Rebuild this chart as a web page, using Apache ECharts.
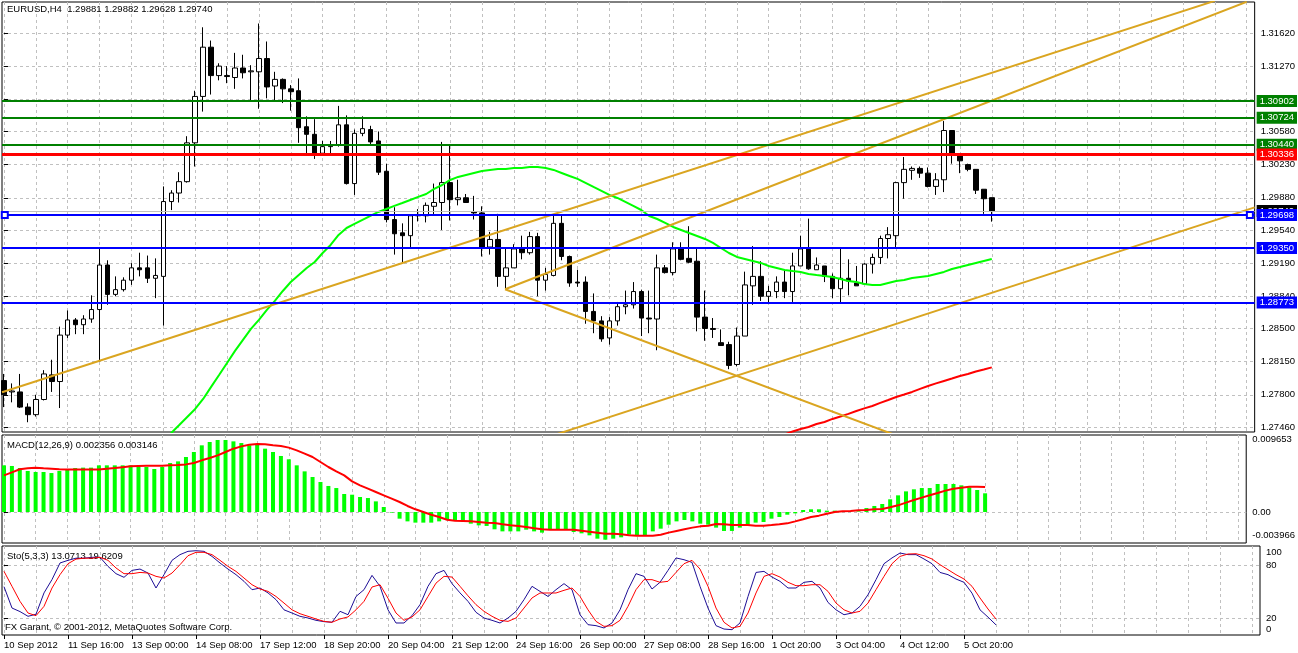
<!DOCTYPE html>
<html>
<head>
<meta charset="utf-8">
<script src="https://cdn.jsdelivr.net/npm/echarts@6/dist/echarts.min.js"></script>
<style>html,body{margin:0;padding:0;background:#fff}#c{width:1298px;height:653px}</style>
</head>
<body>
<div id="c"></div>
<script>
// ---------- DATA ----------
const symbolName = 'EURUSD,H4';
const xLabels = ['10 Sep 2012','11 Sep 16:00','13 Sep 00:00','14 Sep 08:00','17 Sep 12:00','18 Sep 20:00','20 Sep 04:00','21 Sep 12:00','24 Sep 16:00','26 Sep 00:00','27 Sep 08:00','28 Sep 16:00','1 Oct 20:00','3 Oct 04:00','4 Oct 12:00','5 Oct 20:00'];
const priceTicks = [1.3162,1.3127,1.3092,1.3058,1.3023,1.2988,1.2954,1.2919,1.2884,1.2850,1.2815,1.2780,1.2746];
const macdTickValues = [0.0091, 0, -0.0030];
const macdTickLabels = ['0.009653','0.00','-0.003966'];
const stochTickValues = [95, 80, 20, 8];
const stochTickLabels = ['100','80','20','0'];
const stochLevels = [80, 20];

const opens = [1.2795,1.2783,1.2783,1.2767,1.2759,1.2775,1.2801,1.2794,1.2843,1.2859,
1.2854,1.2860,1.2870,1.2917,1.2886,1.2891,1.2901,1.2914,1.2914,1.2903,
1.2905,1.2984,1.2993,1.3005,1.3046,1.3095,1.3147,1.3117,1.3117,1.3115,
1.3125,1.3121,1.3121,1.3135,1.3106,1.3113,1.3103,1.3101,1.3063,1.3055,
1.3035,1.3042,1.3044,1.3065,1.3003,1.3056,1.3060,1.3048,1.3016,1.2965,
1.2951,1.2948,1.2969,1.2969,1.2979,1.2983,1.3004,1.2986,1.2988,1.2973,
1.2972,1.2936,1.2944,1.2905,1.2914,1.2934,1.2930,1.2947,1.2901,1.2906,
1.2961,1.2926,1.2899,1.2899,1.2868,1.2858,1.2840,1.2858,1.2873,1.2875,
1.2889,1.2861,1.2860,1.2914,1.2909,1.2935,1.2924,1.2921,1.2862,1.2850,
1.2835,1.2833,1.2812,1.2842,1.2895,1.2905,1.2884,1.2889,1.2899,1.2889,
1.2916,1.2934,1.2912,1.2916,1.2905,1.2892,1.2903,1.2898,1.2897,1.2918,
1.2925,1.2945,1.2948,1.3004,1.3017,1.3019,1.3014,1.3000,1.3007,1.3059,
1.3032,1.3023,1.3018,1.2997,1.29881];
const highs = [1.2802,1.2792,1.2802,1.2771,1.2780,1.2806,1.2817,1.2852,1.2869,1.2861,
1.2864,1.2885,1.2934,1.2922,1.2905,1.2904,1.2919,1.2930,1.2927,1.2924,
1.3000,1.2996,1.3015,1.3053,1.3101,1.3168,1.3154,1.3130,1.3127,1.3141,
1.3139,1.3128,1.3172,1.3153,1.3121,1.3114,1.3107,1.3114,1.3074,1.3071,
1.3048,1.3048,1.3085,1.3075,1.3060,1.3074,1.3064,1.3058,1.3024,1.2978,
1.2961,1.2969,1.2976,1.2983,1.3003,1.3047,1.3043,1.3007,1.2992,1.2990,
1.2979,1.2952,1.2971,1.2934,1.2939,1.2948,1.2952,1.2951,1.2914,1.2969,
1.2969,1.2927,1.2912,1.2905,1.2887,1.2863,1.2862,1.2878,1.2890,1.2899,
1.2891,1.2890,1.2928,1.2917,1.2941,1.2941,1.2958,1.2936,1.2890,1.2861,
1.2849,1.2836,1.2851,1.2910,1.2937,1.2921,1.2895,1.2905,1.2912,1.2930,
1.2948,1.2966,1.2925,1.2916,1.2908,1.2935,1.2923,1.2916,1.2919,1.2929,
1.2948,1.2957,1.3005,1.3031,1.3021,1.3021,1.3020,1.3014,1.3069,1.3059,
1.3034,1.3024,1.3018,1.2997,1.29882];
const lows = [1.2767,1.2772,1.2766,1.2751,1.2757,1.2774,1.2783,1.2766,1.2840,1.2844,
1.2844,1.2856,1.2815,1.2875,1.2884,1.2889,1.2896,1.2905,1.2898,1.2882,
1.2853,1.2975,1.2983,1.3004,1.3021,1.3079,1.3097,1.3112,1.3109,1.3103,
1.3114,1.3091,1.3082,1.3093,1.3091,1.3088,1.3080,1.3046,1.3035,1.3029,
1.3033,1.3035,1.3042,1.3002,1.2991,1.3053,1.3043,1.3012,1.2962,1.2928,
1.2920,1.2935,1.2963,1.2962,1.2970,1.2954,1.2964,1.2980,1.2983,1.2965,
1.2926,1.2928,1.2894,1.2892,1.2914,1.2923,1.2928,1.2884,1.2890,1.2905,
1.2922,1.2894,1.2894,1.2855,1.2845,1.2836,1.2833,1.2853,1.2865,1.2871,
1.2842,1.2845,1.2827,1.2908,1.2906,1.2922,1.2919,1.2847,1.2837,1.2840,
1.2832,1.2807,1.2810,1.2842,1.2875,1.2879,1.2877,1.2882,1.2882,1.2878,
1.2916,1.2912,1.2912,1.2899,1.2882,1.2877,1.2885,1.2895,1.2897,1.2908,
1.2918,1.2924,1.2935,1.2987,1.3007,1.3009,1.2999,1.2991,1.2994,1.3024,
1.3014,1.3016,1.2992,1.2971,1.29628];
const closes = [1.2780,1.2784,1.2767,1.2759,1.2775,1.2802,1.2794,1.2843,1.2859,1.2854,
1.2860,1.2870,1.2917,1.2886,1.2891,1.2901,1.2914,1.2912,1.2903,1.2906,
1.2984,1.2993,1.3005,1.3046,1.3095,1.3147,1.3117,1.3127,1.3116,1.3125,
1.3120,1.3122,1.3135,1.3105,1.3113,1.3103,1.3100,1.3062,1.3055,1.3034,
1.3042,1.3043,1.3065,1.3003,1.3056,1.3061,1.3047,1.3015,1.2965,1.2950,
1.2948,1.2969,1.2970,1.2980,1.2983,1.3004,1.2986,1.2988,1.2983,1.2972,
1.2936,1.2944,1.2905,1.2914,1.2934,1.2930,1.2947,1.2901,1.2907,1.2961,
1.2926,1.2898,1.2898,1.2868,1.2858,1.2839,1.2858,1.2873,1.2875,1.2889,
1.2861,1.2860,1.2914,1.2909,1.2934,1.2923,1.2920,1.2862,1.2850,1.2849,
1.2832,1.2811,1.2842,1.2896,1.2905,1.2884,1.2889,1.2899,1.2889,1.2916,
1.2934,1.2913,1.2917,1.2905,1.2892,1.2903,1.2900,1.2895,1.2918,1.2925,
1.2945,1.2949,1.3004,1.3018,1.3019,1.3014,1.3000,1.3007,1.3059,1.3034,
1.3027,1.3018,1.2996,1.2987,1.29740];

const maGreen = [null,null,null,null,null,null,null,null,null,null,
null,null,null,null,null,null,null,null,null,null,
1.27249,1.27397,1.27481,1.27566,1.27650,1.27756,1.27883,1.28009,1.28136,1.28263,
1.28379,1.28495,1.28590,1.28696,1.28791,1.28896,1.28991,1.29065,1.29139,1.29202,
1.29297,1.29382,1.29487,1.29561,1.29604,1.29646,1.29688,1.29730,1.29762,1.29794,
1.29825,1.29857,1.29889,1.29920,1.29973,1.30015,1.30068,1.30100,1.30121,1.30142,
1.30163,1.30174,1.30184,1.30184,1.30195,1.30195,1.30205,1.30205,1.30195,1.30174,
1.30142,1.30110,1.30079,1.30037,1.29994,1.29952,1.29910,1.29878,1.29836,1.29794,
1.29751,1.29688,1.29656,1.29614,1.29572,1.29540,1.29508,1.29477,1.29445,1.29403,
1.29350,1.29297,1.29255,1.29234,1.29213,1.29192,1.29160,1.29139,1.29118,1.29107,
1.29097,1.29076,1.29065,1.29055,1.29044,1.29023,1.29002,1.28991,1.28970,1.28960,
1.28960,1.28981,1.29002,1.29012,1.29033,1.29044,1.29055,1.29076,1.29097,1.29128,
1.29149,1.29171,1.29192,1.29213,1.29234];
const maRedStart = 98;
const maRed = [1.27381,1.27413,1.27439,1.27460,1.27492,1.27513,1.27545,1.27571,1.27598,1.27629,
1.27656,1.27682,1.27714,1.27745,1.27777,1.27803,1.27830,1.27862,1.27893,1.27920,
1.27946,1.27972,1.27999,1.28020,1.28046,1.28067,1.28089];

const greenLevels = [1.30902, 1.30724, 1.30440];
const redLevels = [1.30336];
const blueLevels = [1.29698, 1.29350, 1.28773];
const selectedLevel = 1.29698;

const trendLines = [
  [[-0.25, 1.27827], [152, 1.31959]],
  [[62.9, 1.28914], [156, 1.31949]],
  [[62.9, 1.28914], [112, 1.27371]],
  [[69.5, 1.27387], [157, 1.29779]]
];

const macdHist = [0.00588,0.0058,0.00554,0.00517,0.00504,0.00504,0.00491,0.00517,0.00538,0.00554,
0.00559,0.00559,0.00588,0.00588,0.00588,0.00588,0.00588,0.00575,0.00567,0.00542,
0.00567,0.00617,0.00638,0.00693,0.00756,0.0084,0.00882,0.00907,0.00907,0.0089,
0.00869,0.0084,0.00848,0.00798,0.00756,0.00706,0.00664,0.00588,0.00512,0.00441,
0.00378,0.00328,0.00302,0.00227,0.00218,0.00189,0.00176,0.00134,0.00063,-0.00008,
-0.00084,-0.00118,-0.00134,-0.00134,-0.00134,-0.00118,-0.00092,-0.00105,-0.00118,-0.00147,
-0.00168,-0.00176,-0.00218,-0.00244,-0.00244,-0.00244,-0.00223,-0.00244,-0.0026,-0.00218,
-0.00218,-0.00218,-0.00252,-0.00269,-0.00294,-0.00336,-0.00349,-0.00336,-0.00319,-0.00286,
-0.00294,-0.00294,-0.00244,-0.0021,-0.0016,-0.00118,-0.00101,-0.00118,-0.00147,-0.0016,
-0.00197,-0.00239,-0.00239,-0.00197,-0.0016,-0.00134,-0.00126,-0.00084,-0.00063,-0.00034,
-0.00017,0.00025,0.00034,0.00034,0.00017,0.00017,0.00008,0.0,0.00008,0.0005,
0.00076,0.00101,0.0016,0.0021,0.0026,0.00286,0.00302,0.00302,0.00353,0.00353,
0.00353,0.00336,0.00311,0.00277,0.002356];
const macdSignal = [0.00462,0.0050,0.00538,0.0055,0.00559,0.00552,0.00546,0.0054,0.00536,0.00536,
0.00536,0.00536,0.00536,0.00545,0.00554,0.00565,0.00575,0.0058,0.00584,0.00584,
0.00584,0.00588,0.00592,0.006,0.00617,0.00651,0.0068,0.00714,0.00756,0.00798,
0.00827,0.00848,0.00857,0.00853,0.0084,0.00832,0.00811,0.00777,0.00735,0.00693,
0.0063,0.00567,0.00512,0.00462,0.00386,0.00336,0.00294,0.00252,0.0021,0.00168,
0.00126,0.00076,0.00034,0.0,-0.00034,-0.00063,-0.00097,-0.00109,-0.00113,-0.00118,
-0.00126,-0.00134,-0.00139,-0.00155,-0.00168,-0.00176,-0.00189,-0.00206,-0.00218,-0.00223,
-0.00223,-0.00223,-0.00223,-0.00235,-0.00248,-0.0026,-0.00273,-0.00273,-0.00281,-0.00294,
-0.00298,-0.00298,-0.00298,-0.00286,-0.0026,-0.00239,-0.00218,-0.00197,-0.00181,-0.00172,
-0.00151,-0.00155,-0.00164,-0.00164,-0.00164,-0.00172,-0.00172,-0.00164,-0.00155,-0.00143,
-0.00118,-0.00092,-0.00063,-0.00046,-0.00021,0.0,0.00008,0.00013,0.00021,0.00025,
0.00034,0.00038,0.00059,0.00084,0.00118,0.00151,0.00181,0.0021,0.00239,0.00269,
0.00294,0.00307,0.00319,0.00319,0.003146];

const stochK = [56,32,28,22.7,25,49,64,82.6,85.6,88,
88,89,89,78.8,70.6,66.5,74.3,75.8,71.3,54.5,
69.5,85.6,92,95.7,96.4,95.7,90,82.6,75.8,69.5,
62,52.6,54.5,49,41.4,30,26.4,22.7,20.8,18.2,
16.7,16,28.3,24.5,45,52.6,68.7,56.4,30,15.2,
15.2,23.4,35.8,56.4,70.6,74.3,59.4,49,39.5,27.2,
20.8,18.2,15.2,20.8,28.3,41.4,56.4,50.7,45,52.6,
59.4,52.6,24.5,13.3,12.2,9.6,15.2,30,52.6,70.6,
67.6,53.4,60.9,74.3,88.3,86.3,83.3,56.4,32,12.2,
8.4,7.7,15.2,45,72,73.2,66.8,62,54.5,54.5,
60.9,62,54.5,38.3,30,24.5,26.4,33.9,47,63.9,
81.8,88.3,93.8,92,92,87.1,81.8,72,69.5,64.6,
60.9,48.7,30,21.8,13.0713];
const stochD = [73.2,56.4,39.5,26.4,23.4,33.9,54.5,69.5,81.8,87,
88,88,89,85.6,77,70.6,70.6,72,71.3,67.6,
65.7,71.3,80.7,90.8,94.6,94.6,92,85.6,78.8,73.2,
65.7,58.2,53.4,50.7,45,37.6,30,25.6,22.7,19.7,
17,16,19.7,22,30,39.5,55.6,58.2,43,26.4,
18.2,22,30,45,60,67.6,66.8,56.4,45.7,35.8,
28.3,22.7,18.2,17,20.8,32,43.3,48.9,48.9,48.9,
51.9,54.5,45,30,17,11.4,12.2,18.2,33.9,52.6,
63.9,63.9,60.9,62,72,81.8,85.6,75.8,56.4,32,
16,9.6,11.4,26.4,48.9,67.6,70.6,66.8,60.9,57.1,
57.1,58.2,58.2,50.7,37.6,30,26.4,28.3,37.6,52.6,
67.6,81.8,90,92.7,93,90.8,87.1,80.7,75.1,69.5,
64.6,56.4,43.3,30.9,19.6209];

// ---------- CHART ----------
const FONT = 'Liberation Sans';
const FS = 9.5;
const X_MIN = -0.25, X_MAX = 157;
const last = closes.length - 1;
const vGrid = []; for (let v = 0; v <= 156; v += 4) vGrid.push(v);
const xLabelIdx = xLabels.map((_, k) => k * 8);
const gridLine = { show: true, lineStyle: { color: '#c0c0c0', type: [3, 3], width: 1 } };

function nearestLabel(values, labels, v) {
  let bi = 0, bd = Infinity;
  values.forEach((t, i) => { const d = Math.abs(t - v); if (d < bd) { bd = d; bi = i; } });
  return labels[bi];
}
function levelLine(v, color, width, bg) {
  return {
    yAxis: v,
    lineStyle: { color: color, width: width, type: 'solid' },
    label: { show: true, position: 'end', distance: 2, formatter: () => v.toFixed(5),
      color: '#fff', backgroundColor: bg, padding: [1, 3, 1, 3], fontSize: FS, fontFamily: FONT, lineHeight: 10 }
  };
}
const markData = [];
markData.push(levelLine(closes[last], '#c0c0c0', 1, '#000'));
greenLevels.forEach(v => markData.push(levelLine(v, '#008000', 2, '#008000')));
redLevels.forEach(v => markData.push(levelLine(v, '#ff0000', 3, '#ff0000')));
blueLevels.forEach(v => markData.push(levelLine(v, '#0000ff', 2, '#0000ff')));
markData.push([
  { coord: [0.1, selectedLevel], symbol: 'emptyRect', symbolSize: 6, lineStyle: { color: '#0000ff', width: 2, type: 'solid' }, label: { show: false } },
  { coord: [156.4, selectedLevel], symbol: 'emptyRect', symbolSize: 6 }
]);

const series = [];
series.push({
  type: 'candlestick', xAxisIndex: 0, yAxisIndex: 0,
  data: opens.map((o, i) => [i, o, closes[i], lows[i], highs[i]]),
  encode: { x: 0, y: [1, 2, 3, 4] },
  barWidth: 5,
  itemStyle: { color: '#ffffff', color0: '#000000', borderColor: '#000000', borderColor0: '#000000', borderColorDoji: '#000000', borderWidth: 1 },
  markLine: { silent: true, symbol: 'none', precision: 5, animation: false,
    lineStyle: { type: 'solid' }, data: markData }
});
series.push({
  type: 'line', xAxisIndex: 0, yAxisIndex: 0, showSymbol: false, symbol: 'none',
  data: maGreen.map((v, i) => [i, v]).filter(p => p[1] != null),
  lineStyle: { color: '#00ff00', width: 2 }, z: 3
});
series.push({
  type: 'line', xAxisIndex: 0, yAxisIndex: 0, showSymbol: false, symbol: 'none',
  data: maRed.map((v, i) => [maRedStart + i, v]),
  lineStyle: { color: '#ff0000', width: 2 }, z: 3
});
trendLines.forEach(tl => series.push({
  type: 'line', xAxisIndex: 0, yAxisIndex: 0, showSymbol: false, symbol: 'none',
  data: tl, lineStyle: { color: '#daa520', width: 2 }, z: 3
}));
series.push({
  type: 'bar', xAxisIndex: 1, yAxisIndex: 1, barWidth: 4,
  data: macdHist.map((v, i) => [i, v]), itemStyle: { color: '#00ff00' }
});
series.push({
  type: 'line', xAxisIndex: 1, yAxisIndex: 1, showSymbol: false, symbol: 'none',
  data: macdSignal.map((v, i) => [i, v]), lineStyle: { color: '#ff0000', width: 2 }
});
series.push({
  type: 'line', xAxisIndex: 2, yAxisIndex: 2, showSymbol: false, symbol: 'none',
  data: stochK.map((v, i) => [i, v]), lineStyle: { color: '#1e0e96', width: 1 }
});
series.push({
  type: 'line', xAxisIndex: 2, yAxisIndex: 2, showSymbol: false, symbol: 'none',
  data: stochD.map((v, i) => [i, v]), lineStyle: { color: '#ff0000', width: 1 }
});

const hiddenX = (g, pos) => ({
  type: 'value', gridIndex: g, position: pos, min: X_MIN, max: X_MAX,
  axisLine: { show: false }, axisLabel: { show: false },
  axisTick: { show: false, customValues: vGrid }, splitLine: gridLine
});
const gridBox = { show: true, borderColor: '#000', borderWidth: 1, backgroundColor: 'rgba(0,0,0,0)' };

const option = {
  animation: false,
  backgroundColor: '#ffffff',
  textStyle: { fontFamily: FONT },
  grid: [
    Object.assign({ left: 2, top: 2, width: 1258, height: 430 }, gridBox),
    Object.assign({ left: 2, top: 435, width: 1258, height: 108 }, gridBox),
    Object.assign({ left: 2, top: 546, width: 1258, height: 89 }, gridBox)
  ],
  xAxis: [
    hiddenX(0, 'bottom'),
    hiddenX(1, 'bottom'),
    {
      type: 'value', gridIndex: 2, position: 'bottom', min: X_MIN, max: X_MAX,
      axisLine: { show: false },
      axisTick: { show: true, length: 4, customValues: xLabelIdx, lineStyle: { color: '#000' } },
      axisLabel: { show: true, customValues: xLabelIdx, formatter: v => xLabels[Math.round(v / 8)] || '',
        align: 'left', margin: 5, fontSize: FS, fontFamily: FONT, color: '#000' },
      splitLine: { show: false }
    },
    hiddenX(2, 'top')
  ],
  yAxis: [
    {
      type: 'value', gridIndex: 0, position: 'right', min: 1.27407, max: 1.31947,
      axisLine: { show: false },
      axisTick: { show: true, length: 4, customValues: priceTicks, lineStyle: { color: '#000' } },
      axisLabel: { customValues: priceTicks, formatter: v => v.toFixed(5), margin: 6, fontSize: FS, fontFamily: FONT, color: '#000' },
      splitLine: gridLine
    },
    {
      type: 'value', gridIndex: 1, position: 'right', min: -0.003906, max: 0.009702,
      axisLine: { show: false },
      axisTick: { show: true, length: 4, customValues: [0], lineStyle: { color: '#000' } },
      axisLabel: { customValues: macdTickValues, formatter: v => nearestLabel(macdTickValues, macdTickLabels, v),
        margin: 6, fontSize: FS, fontFamily: FONT, color: '#000' },
      splitLine: gridLine
    },
    {
      type: 'value', gridIndex: 2, position: 'right', min: 1.7, max: 101.7,
      axisLine: { show: false },
      axisTick: { show: true, length: 4, customValues: stochLevels, lineStyle: { color: '#000' } },
      axisLabel: { customValues: stochTickValues, formatter: v => nearestLabel(stochTickValues, stochTickLabels, v),
        margin: 6, fontSize: FS, fontFamily: FONT, color: '#000' },
      splitLine: gridLine
    }
  ],
  graphic: [
    { type: 'text', left: 7, top: 4, z: 1, style: { text: symbolName + '  ' + [opens[last], highs[last], lows[last], closes[last]].map(v => v.toFixed(5)).join(' '), fontSize: FS, fontFamily: FONT, fill: '#000' } },
    { type: 'text', left: 7, top: 440, z: 1, style: { text: 'MACD(12,26,9) ' + macdHist[last].toFixed(6) + ' ' + macdSignal[last].toFixed(6), fontSize: FS, fontFamily: FONT, fill: '#000' } },
    { type: 'text', left: 7, top: 551, z: 1, style: { text: 'Sto(5,3,3) ' + stochK[last].toFixed(4) + ' ' + stochD[last].toFixed(4), fontSize: FS, fontFamily: FONT, fill: '#000' } },
    { type: 'text', left: 5, top: 622, z: 1, style: { text: 'FX Garant, \u00a9 2001-2012, MetaQuotes Software Corp.', fontSize: FS, fontFamily: FONT, fill: '#000' } }
  ],
  series: series
};

const chart = echarts.init(document.getElementById('c'), null, { renderer: 'canvas' });
chart.setOption(option);
</script>
</body>
</html>
